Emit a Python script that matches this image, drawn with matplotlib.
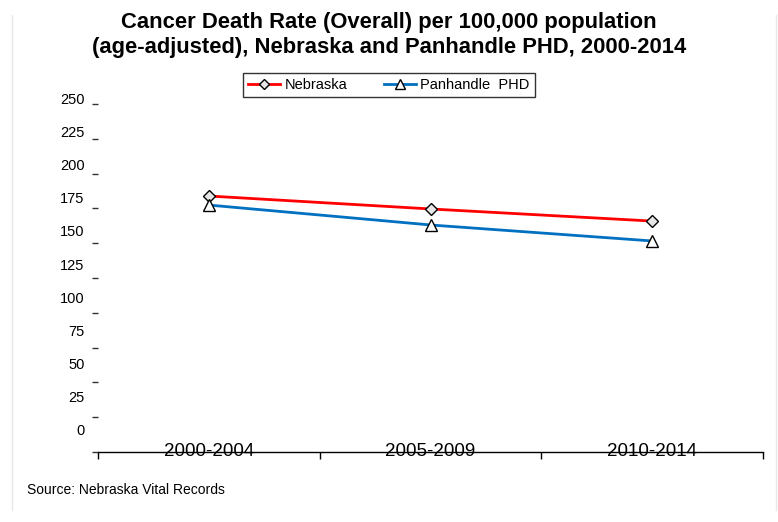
import matplotlib
matplotlib.use("Agg")
import matplotlib.pyplot as plt
from matplotlib.lines import Line2D

plt.rcParams['font.family'] = ['Liberation Sans', 'DejaVu Sans']

# Data
periods = ["2000-2004", "2005-2009", "2010-2014"]
nebraska = [183.9, 174.6, 165.9]
panhandle = [177.4, 163.1, 151.6]
y_ticks = [0, 25, 50, 75, 100, 125, 150, 175, 200, 225, 250]
series_names = ["Nebraska", "Panhandle  PHD"]
title = ("Cancer Death Rate (Overall) per 100,000 population\n"
         "(age-adjusted), Nebraska and Panhandle PHD, 2000-2014")
source = "Source: Nebraska Vital Records"

W, H = 778, 522
fig = plt.figure(figsize=(W / 100, H / 100), dpi=100)
fig.patch.set_facecolor("white")

# Plot area in pixel terms
left, right, top, bottom = 98, 763, 104, 452
ax = fig.add_axes([left / W, 1 - bottom / H, (right - left) / W, (bottom - top) / H])
ax.set_facecolor("none")

x = list(range(len(periods)))
ax.plot(x, nebraska, color="#FF0000", lw=2.0, marker="D", ms=6,
        mfc="#E6E6E6", mec="black", mew=1.0, zorder=3)
ax.plot(x, panhandle, color="#0070C0", lw=2.0, marker="^", ms=8,
        mfc="white", mec="black", mew=1.0, zorder=3)

ax.set_xlim(-0.5, len(periods) - 0.5)
ax.set_ylim(0, 250)

for s in ["top", "right", "left"]:
    ax.spines[s].set_visible(False)
ax.spines["bottom"].set_color("black")
ax.spines["bottom"].set_linewidth(1.0)

# X axis: category labels sit on the axis line, ticks between categories
ax.set_xticks(x)
ax.set_xticklabels(periods, fontsize=13.5)
ax.tick_params(axis="x", which="major", length=0, pad=-6.5)
ax.set_xticks([i - 0.5 for i in range(len(periods) + 1)], minor=True)
ax.tick_params(axis="x", which="minor", length=5, width=1, direction="out", color="black")

# Y axis: small dash ticks, labels drawn slightly offset
ax.set_yticks(y_ticks)
ax.tick_params(axis="y", which="major", length=4, width=1, color="#333333",
               labelleft=False, pad=0)
lab_bottom, lab_top = (452 - 431) / 348, (452 - 100) / 348
for i, v in enumerate(y_ticks):
    frac = lab_bottom + (lab_top - lab_bottom) * i / (len(y_ticks) - 1)
    ax.text(-0.02, frac, str(v), transform=ax.transAxes, ha="right", va="center",
            fontsize=10.5, color="black")

# Title
fig.text(0.5, 1 - 35 / H, title, ha="center", va="center", fontsize=15.8,
         fontweight="bold", linespacing=1.2)

# Legend
handles = [
    Line2D([], [], color="#FF0000", lw=2.0, marker="D", ms=5, mfc="#E6E6E6", mec="black", mew=1.0),
    Line2D([], [], color="#0070C0", lw=2.0, marker="^", ms=7, mfc="white", mec="black", mew=1.0),
]
leg = fig.legend(handles, series_names, loc="center", ncol=2,
                 bbox_to_anchor=(389 / W, 1 - 85 / H), fontsize=10.5,
                 frameon=True, fancybox=False, edgecolor="black",
                 handlelength=2.2, handletextpad=0.3, columnspacing=2.5,
                 borderpad=0.35)
leg.get_frame().set_linewidth(1.0)

# Source note
fig.text(27 / W, 1 - 490 / H, source, ha="left", va="center", fontsize=10)

# Light frame lines at the sides
fig.add_artist(Line2D([12 / W, 12 / W], [1 - 15 / H, 1 - 510 / H], color="#E8E8E8", lw=1,
                      transform=fig.transFigure))
fig.add_artist(Line2D([776 / W, 776 / W], [1 - 15 / H, 1 - 510 / H], color="#E8E8E8", lw=1,
                      transform=fig.transFigure))

fig.savefig("out.png", dpi=100, facecolor="white")
